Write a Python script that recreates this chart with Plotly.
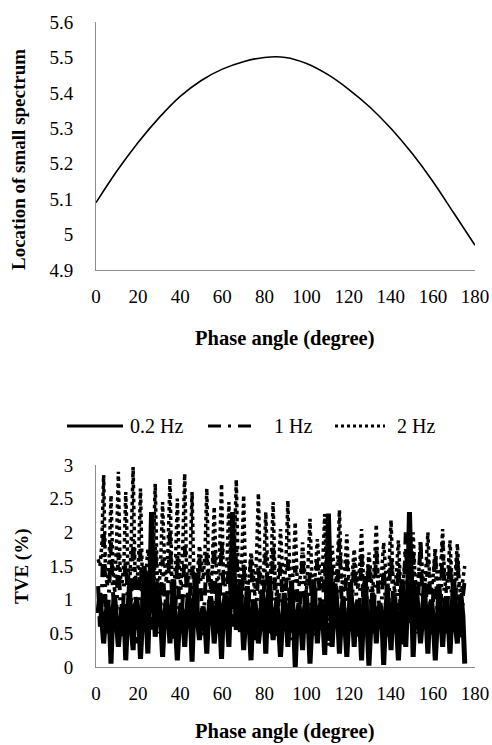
import plotly.graph_objects as go

W, H = 492, 745

# ---------------- data: top chart ----------------
phase_top = [0, 10, 20, 30, 40, 50, 60, 70, 80, 90, 100, 110, 120, 130, 140, 150, 160, 170, 180]
location = [5.09, 5.18, 5.26, 5.33, 5.39, 5.435, 5.467, 5.488, 5.50, 5.50, 5.483, 5.452, 5.41, 5.36,
            5.30, 5.23, 5.15, 5.06, 4.97]

# ---------------- data: bottom chart ----------------
# 200 samples, 0.875 degree apart; each cycle of 4 samples read as (first, second, third, fourth)
phase_bottom = [round(1 + 0.875 * i, 3) for i in range(200)]

# 0.2 Hz  cycle = (mid1, peak, mid2, trough)
hz02_mid1 = [0.8, 0.7, 0.85, 0.6, 0.75, 0.9, 0.65, 1.0, 0.8, 0.7, 0.85, 0.6, 0.75, 0.9, 0.7, 0.8,
             0.65, 0.85, 1.1, 0.75, 0.7, 0.8, 0.6, 0.9, 0.75, 0.65, 0.8, 0.7, 0.85, 0.6, 0.75, 1.0,
             0.8, 0.7, 0.65, 0.85, 0.75, 0.6, 0.8, 0.7, 0.9, 0.65, 1.0, 0.8, 0.7, 0.85, 0.6, 0.75,
             0.8, 0.9]
hz02_peak = [1.1, 0.95, 1.05, 0.9, 1.2, 1.0, 1.5, 2.3, 1.1, 1.0, 1.3, 0.95, 1.1, 1.4, 0.9, 1.05,
             1.2, 1.1, 2.3, 1.3, 1.2, 1.0, 1.15, 1.35, 1.0, 1.1, 1.25, 0.95, 1.1, 1.3, 1.0, 2.28,
             1.2, 1.05, 1.25, 1.0, 1.35, 1.1, 0.95, 1.2, 1.05, 1.3, 2.3, 1.1, 1.25, 1.0, 1.2, 1.05,
             1.3, 1.05]
hz02_mid2 = [0.7, 0.8, 0.65, 0.9, 0.6, 0.75, 0.85, 1.2, 0.7, 0.8, 0.6, 0.75, 0.9, 0.7, 0.65, 0.85,
             0.75, 0.7, 1.3, 0.8, 0.65, 0.75, 0.9, 0.7, 0.6, 0.8, 0.75, 0.65, 0.7, 0.85, 0.7, 1.2,
             0.75, 0.6, 0.8, 0.7, 0.65, 0.85, 0.75, 0.7, 0.6, 0.8, 1.2, 0.7, 0.75, 0.65, 0.8, 0.7,
             0.6, 0.75]
hz02_trough = [0.35, 0.05, 0.3, 0.1, 0.25, 0.12, 0.2, 0.45, 0.15, 0.35, 0.1, 0.3, 0.08, 0.4, 0.2,
               0.35, 0.12, 0.3, 0.55, 0.25, 0.1, 0.35, 0.2, 0.4, 0.15, 0.3, 0.0, 0.25, 0.05, 0.35,
               0.18, 0.3, 0.2, 0.15, 0.3, 0.1, 0.02, 0.35, 0.03, 0.25, 0.1, 0.3, 0.15, 0.35, 0.2,
               0.1, 0.3, 0.2, 0.35, 0.05]

# 1 Hz  cycle = (mid1, trough, mid2, peak)
hz1_mid1 = [1.2, 1.0, 1.15, 0.95, 1.1, 1.25, 0.9, 1.05, 1.2, 1.0, 1.1, 0.95, 1.15, 1.25, 1.0, 1.1,
            0.9, 1.2, 1.05, 1.15, 1.0, 0.95, 1.1, 1.2, 1.0, 1.05, 0.9, 1.15, 1.1, 1.0, 1.2, 0.95,
            1.05, 1.1, 1.0, 1.15, 0.9, 1.05, 1.2, 1.0, 1.1, 0.95, 1.15, 1.05, 1.0, 1.2, 0.9, 1.1,
            1.05, 1.0]
hz1_trough = [0.6, 0.5, 0.7, 0.45, 0.6, 0.35, 0.75, 0.55, 0.5, 0.65, 0.4, 0.6, 0.55, 0.7, 0.45,
              0.6, 0.5, 0.65, 0.6, 0.5, 0.55, 0.4, 0.6, 0.5, 0.45, 0.55, 0.4, 0.6, 0.5, 0.45, 0.55,
              0.3, 0.6, 0.5, 0.55, 0.45, 0.6, 0.5, 0.55, 0.45, 0.5, 0.3, 0.6, 0.5, 0.55, 0.45, 0.6,
              0.5, 0.55, 0.4]
hz1_mid2 = [1.0, 1.15, 0.9, 1.2, 1.05, 0.95, 1.25, 1.1, 1.0, 1.2, 0.9, 1.05, 1.15, 1.0, 1.1, 1.2,
            0.95, 1.05, 1.25, 1.0, 1.1, 0.9, 1.15, 1.05, 1.0, 1.2, 0.95, 1.1, 1.0, 1.15, 0.9, 1.05,
            1.2, 1.0, 1.1, 0.95, 1.15, 1.05, 1.0, 1.2, 0.9, 1.1, 1.05, 1.2, 1.0, 1.15, 0.95, 1.1,
            1.0, 1.05]
hz1_peak = [2.1, 1.85, 1.7, 1.6, 1.9, 1.75, 1.4, 1.8, 1.6, 2.0, 1.7, 1.8, 1.5, 1.65, 1.7, 1.85,
            1.9, 1.6, 1.75, 1.55, 1.65, 1.5, 1.7, 1.8, 1.55, 1.6, 1.5, 1.7, 1.45, 1.6, 1.55, 1.5,
            1.9, 1.6, 1.55, 1.7, 1.6, 1.75, 1.5, 1.65, 1.55, 2.0, 1.7, 1.9, 1.6, 1.75, 1.85, 1.6,
            1.7, 1.3]

# 2 Hz  cycle = (mid1, trough, mid2, peak)
hz2_mid1 = [1.6, 1.4, 1.5, 1.35, 1.65, 1.45, 1.3, 1.55, 1.4, 1.6, 1.35, 1.5, 1.45, 1.3, 1.6, 1.4,
            1.55, 1.35, 1.5, 1.45, 1.3, 1.5, 1.4, 1.45, 1.35, 1.5, 1.4, 1.3, 1.45, 1.35, 1.5, 1.3,
            1.45, 1.4, 1.3, 1.45, 1.35, 1.4, 1.3, 1.45, 1.35, 1.3, 1.4, 1.35, 1.45, 1.3, 1.4, 1.35,
            1.3, 1.25]
hz2_trough = [1.5, 1.2, 1.1, 1.25, 1.05, 1.15, 1.0, 1.2, 1.1, 1.25, 1.05, 1.15, 1.2, 1.1, 1.3,
              1.15, 1.05, 1.2, 1.1, 1.25, 1.15, 1.05, 1.2, 1.1, 1.0, 1.15, 1.05, 1.2, 1.1, 1.05,
              1.15, 0.95, 1.2, 1.1, 1.05, 1.15, 1.0, 1.1, 1.2, 1.05, 1.1, 0.95, 1.2, 1.1, 1.05,
              1.15, 1.0, 1.1, 1.05, 1.0]
hz2_mid2 = [1.8, 1.6, 1.85, 1.55, 1.9, 1.65, 1.4, 1.75, 1.6, 1.8, 1.55, 1.85, 1.65, 1.4, 1.7, 1.5,
            1.75, 1.6, 1.8, 1.6, 1.35, 1.65, 1.5, 1.6, 1.45, 1.6, 1.5, 1.4, 1.55, 1.45, 1.6, 1.4,
            1.6, 1.5, 1.4, 1.5, 1.35, 1.55, 1.45, 1.55, 1.45, 1.4, 1.5, 1.4, 1.5, 1.4, 1.5, 1.45,
            1.45, 1.3]
hz2_peak = [2.85, 2.55, 2.9, 2.6, 2.97, 2.65, 1.75, 2.72, 2.45, 2.8, 2.5, 2.87, 2.6, 1.8, 2.65,
            2.38, 2.72, 2.45, 2.78, 2.55, 1.7, 2.58, 2.3, 2.45, 2.05, 2.47, 2.15, 1.85, 2.2, 1.9,
            2.27, 1.8, 2.33, 1.97, 1.75, 2.05, 1.7, 2.12, 1.85, 2.18, 1.88, 1.75, 2.0, 1.8, 2.0,
            1.75, 2.05, 1.88, 1.83, 1.5]


def cycles(*parts):
    out = []
    for group in zip(*parts):
        out.extend(group)
    return out


tve_02 = cycles(hz02_mid1, hz02_peak, hz02_mid2, hz02_trough)
tve_1 = cycles(hz1_mid1, hz1_trough, hz1_mid2, hz1_peak)
tve_2 = cycles(hz2_mid1, hz2_trough, hz2_mid2, hz2_peak)

series_names = ["0.2 Hz", "1 Hz", "2 Hz"]

# ---------------- layout helpers (pixel -> paper) ----------------
def px_x(p):
    return p / W


def px_y(p):
    return 1 - p / H


FONT = "Liberation Serif"
AXIS_COL = "#8c8c8c"
DASHDOT = "13px,7px,3px,7px"

fig = go.Figure()

fig.add_trace(go.Scatter(x=phase_top, y=location, mode="lines",
                         line=dict(color="black", width=1.6, shape="spline", smoothing=1.0),
                         xaxis="x", yaxis="y", showlegend=False))

fig.add_trace(go.Scatter(x=phase_bottom, y=tve_2, mode="lines", name=series_names[2],
                         line=dict(color="black", width=3.5, dash="dot"), xaxis="x2", yaxis="y2", showlegend=False))
fig.add_trace(go.Scatter(x=phase_bottom, y=tve_1, mode="lines", name=series_names[1],
                         line=dict(color="black", width=4, dash=DASHDOT), xaxis="x2", yaxis="y2", showlegend=False))
fig.add_trace(go.Scatter(x=phase_bottom, y=tve_02, mode="lines", name=series_names[0],
                         line=dict(color="black", width=5), xaxis="x2", yaxis="y2", showlegend=False))

axis_common = dict(showgrid=False, zeroline=False, showline=True, linecolor=AXIS_COL, linewidth=1,
                   automargin=False, ticks="", tickfont=dict(family=FONT, size=19, color="black"),
                   ticklabelstandoff=9)

fig.update_layout(
    width=W, height=H,
    margin=dict(l=0, r=0, t=0, b=0, autoexpand=False),
    paper_bgcolor="white", plot_bgcolor="white",
    xaxis=dict(domain=[px_x(96), px_x(475)], range=[0, 180], dtick=20, anchor="y", **axis_common),
    yaxis=dict(domain=[px_y(270), px_y(22)], range=[4.9, 5.6], dtick=0.1, anchor="x", **axis_common),
    xaxis2=dict(domain=[px_x(96), px_x(475)], range=[0, 180], dtick=20, anchor="y2", **axis_common),
    yaxis2=dict(domain=[px_y(667), px_y(465)], range=[0, 3], dtick=0.5, anchor="x2", **axis_common),
)
fig.update_yaxes(ticklabelstandoff=18)

vt_font = dict(family=FONT, size=19, color="black")
ht_font = dict(family=FONT, size=20.5, color="black")
annotations = [
    dict(text="<b>Location of small spectrum</b>", x=px_x(18), y=px_y(160), textangle=-90, font=vt_font),
    dict(text="<b>Phase angle (degree)</b>", x=px_x(285), y=px_y(338), font=ht_font),
    dict(text="<b>TVE (%)</b>", x=px_x(22), y=px_y(567), textangle=-90, font=vt_font),
    dict(text="<b>Phase angle (degree)</b>", x=px_x(285), y=px_y(731), font=ht_font),
]
for a in annotations:
    a.update(xref="paper", yref="paper", showarrow=False, xanchor="center", yanchor="middle")

# custom legend
leg_y = px_y(426)
leg_items = [(67, 123, None, 128, series_names[0]),
             (208, 253, DASHDOT, 272, series_names[1]),
             (335, 385, "dot", 395, series_names[2])]
shapes = []
for x0, x1, dash, tx, label in leg_items:
    ln = dict(color="black", width=3)
    if dash:
        ln["dash"] = dash
    shapes.append(dict(type="line", xref="paper", yref="paper", x0=px_x(x0), x1=px_x(x1), y0=leg_y, y1=leg_y, line=ln))
    annotations.append(dict(text=label, x=px_x(tx), y=leg_y, xref="paper", yref="paper", showarrow=False,
                            xanchor="left", yanchor="middle", font=dict(family=FONT, size=20, color="black")))

fig.update_layout(annotations=annotations, shapes=shapes)

fig.write_html("out.html")
